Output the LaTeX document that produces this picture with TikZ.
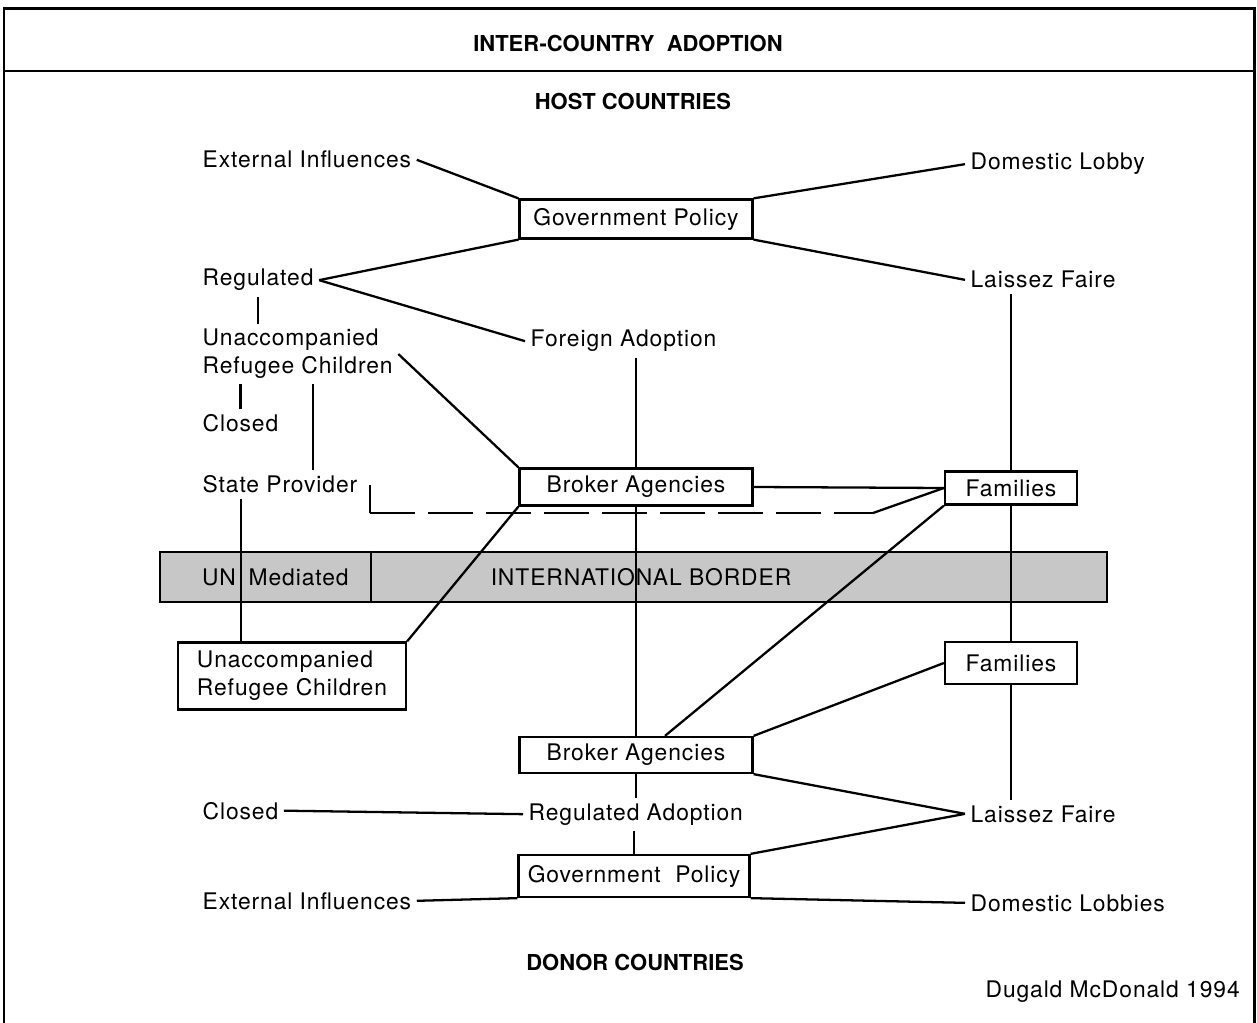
\documentclass[tikz,border=0pt]{standalone}
\usepackage{fontspec}
\setmainfont{TeX Gyre Heros}[LetterSpace=4]
\newfontfamily\headfont{TeX Gyre Heros}
\usetikzlibrary{calc}

\begin{document}
\begin{tikzpicture}[%%
  x=0.02cm,y=-0.02cm,%%
  lineStyle/.style={-,line width=1.3pt},%%
  dashStyle/.style={lineStyle,dash pattern=on 0.9cm off 0.26cm},%%
  frameStyle/.style={-,line width=1.7pt},%%
  boxStyle/.style={draw,line width=1.3pt,inner sep=0pt,align=left},%%
  labelStyle/.style={inner sep=3pt,align=left},%%
  headStyle/.style={font=\headfont\bfseries\fontsize{12.5}{15}\selectfont},%%
  font=\fontsize{13}{16}\selectfont
]
%%
%%
\pgfmathsetmacro{\wideBox}{4.66}
\pgfmathsetmacro{\smallBox}{2.64}
\pgfmathsetmacro{\boxHeight}{0.76}
%%
\useasboundingbox (0,0) rectangle (1257,1023);
%%
%% The frame and the title bar.
\draw[frameStyle] (4,1023) -- (4,9) -- (1254,9) -- (1254,1023);
\draw[frameStyle] (4,71) -- (1254,71);
\node[headStyle] (titleNode) at (628,44) {INTER-COUNTRY\ \ ADOPTION};
\node[headStyle] (hostNode) at (633,102) {HOST COUNTRIES};
\node[headStyle] (donorNode) at (635,962) {DONOR COUNTRIES};
\node[labelStyle,anchor=base west] (authorNode) at (980,997) {Dugald McDonald 1994};
%%
%% The international border.
\node[draw,lineStyle,fill=black!22,minimum width=18.94cm,minimum height=1.0cm] (border) at (633.5,577) {};
\coordinate (unDivide) at (371,0);
\draw[lineStyle] (border.north -| unDivide) -- (border.south -| unDivide);
\node[labelStyle] (unText) at (219,577) {UN};
\node[labelStyle,anchor=west] (medText) at (243,577) {Mediated};
\node[labelStyle] (borderText) at (641,577) {INTERNATIONAL BORDER};
%%
%% Host countries.
\node[boxStyle,minimum width=\wideBox cm,minimum height=0.78cm] (govHost) at (636,219) {Government Policy};
\node[labelStyle,anchor=base west] (extHost) at (197,168) {External Influences};
\node[labelStyle,anchor=base west] (domHost) at (965,170) {Domestic Lobby};
\node[labelStyle,anchor=base west] (regHost) at (197,286) {Regulated};
\node[labelStyle,anchor=base west] (laisHost) at (965,288) {Laissez Faire};
\node[labelStyle,anchor=base west] (foreignHost) at (525,347) {Foreign Adoption};
\node[labelStyle,anchor=west] (unaccHost) at (197,354) {Unaccompanied\\Refugee Children};
\node[labelStyle,anchor=base west] (closedHost) at (197,432) {Closed};
\node[labelStyle,anchor=base west] (stateHost) at (197,493) {State Provider};
\node[boxStyle,minimum width=\wideBox cm,minimum height=0.74cm] (brokerHost) at (636,487) {Broker Agencies};
\node[boxStyle,minimum width=\smallBox cm,minimum height=0.66cm] (famHost) at (1011,488) {Families};
%%
%% Donor countries.
\node[boxStyle,minimum width=4.56cm,minimum height=1.34cm] (unaccDonor) at (292,676) {Unaccompanied\\Refugee Children};
\node[boxStyle,minimum width=\smallBox cm,minimum height=0.84cm] (famDonor) at (1011,663) {Families};
\node[boxStyle,minimum width=\wideBox cm,minimum height=0.72cm] (brokerDonor) at (636,755) {Broker Agencies};
\node[labelStyle,anchor=base west] (closedDonor) at (197,819) {Closed};
\node[labelStyle,anchor=base west] (regAdopt) at (523,820) {Regulated Adoption};
\node[labelStyle,anchor=base west] (laisDonor) at (965,822) {Laissez Faire};
\node[boxStyle,minimum width=4.62cm,minimum height=0.84cm] (govDonor) at (634,876) {Government\ \ Policy};
\node[labelStyle,anchor=base west] (extDonor) at (197,909) {External Influences};
\node[labelStyle,anchor=base west] (domDonor) at (965,911) {Domestic Lobbies};
%%
%% Links round the host government.
\draw[lineStyle] (extHost.east) -- (govHost.north west);
\draw[lineStyle] (domHost.west) -- (govHost.north east);
\draw[lineStyle] (regHost.east) -- (govHost.south west);
\draw[lineStyle] (regHost.east) -- (foreignHost.west);
\draw[lineStyle] (laisHost.west) -- (govHost.south east);
%%
%% The regulated branch.
\draw[lineStyle] (regHost.south) -- (regHost.south |- unaccHost.north);
\draw[lineStyle] (closedHost.north) -- (closedHost.north |- unaccHost.south);
\coordinate (refugeeLine) at (313,0);
\draw[lineStyle] (unaccHost.south -| refugeeLine) -- (stateHost.north -| refugeeLine);
\draw[lineStyle] (unaccHost.east) -- (brokerHost.north west);
\draw[lineStyle] (brokerHost.north |- foreignHost.south) -- (brokerHost.north);
%%
%% Host agencies and families.
\draw[lineStyle] (brokerHost.east) -- (famHost.west);
\draw[lineStyle] (famHost.north |- laisHost.south) -- (famHost.north);
\coordinate (dashCorner) at (370,513);
\coordinate (dashEnd) at (873,513);
\draw[lineStyle] (dashCorner |- stateHost.east) -- (dashCorner);
\draw[dashStyle] (dashCorner) -- (dashEnd);
\draw[lineStyle] (dashEnd) -- (famHost.west);
%%
%% Across the border.
\coordinate (unLine) at (241,0);
\draw[lineStyle] (stateHost.south -| unLine) -- (unaccDonor.north -| unLine);
\draw[lineStyle] (brokerHost.south west) -- (unaccDonor.north east);
\draw[lineStyle] (brokerHost.south) -- (brokerDonor.north);
\draw[lineStyle] (famHost.south west) -- ($(brokerDonor.north)+(29,0)$);
\draw[lineStyle] (famHost.south) -- (famDonor.north);
%%
%% Donor agencies and families.
\draw[lineStyle] (famDonor.west) -- (brokerDonor.north east);
\draw[lineStyle] (famDonor.south) -- (famDonor.south |- laisDonor.north);
\draw[lineStyle] (brokerDonor.south) -- (brokerDonor.south |- regAdopt.north);
\draw[lineStyle] (govDonor.north |- regAdopt.south) -- (govDonor.north);
\draw[lineStyle] (closedDonor.east) -- (regAdopt.west);
\draw[lineStyle] (brokerDonor.south east) -- (laisDonor.west);
\draw[lineStyle] (laisDonor.west) -- (govDonor.north east);
%%
%% Links round the donor government.
\draw[lineStyle] (extDonor.east) -- (govDonor.south west);
\draw[lineStyle] (domDonor.west) -- (govDonor.south east);
\end{tikzpicture}
\end{document}
